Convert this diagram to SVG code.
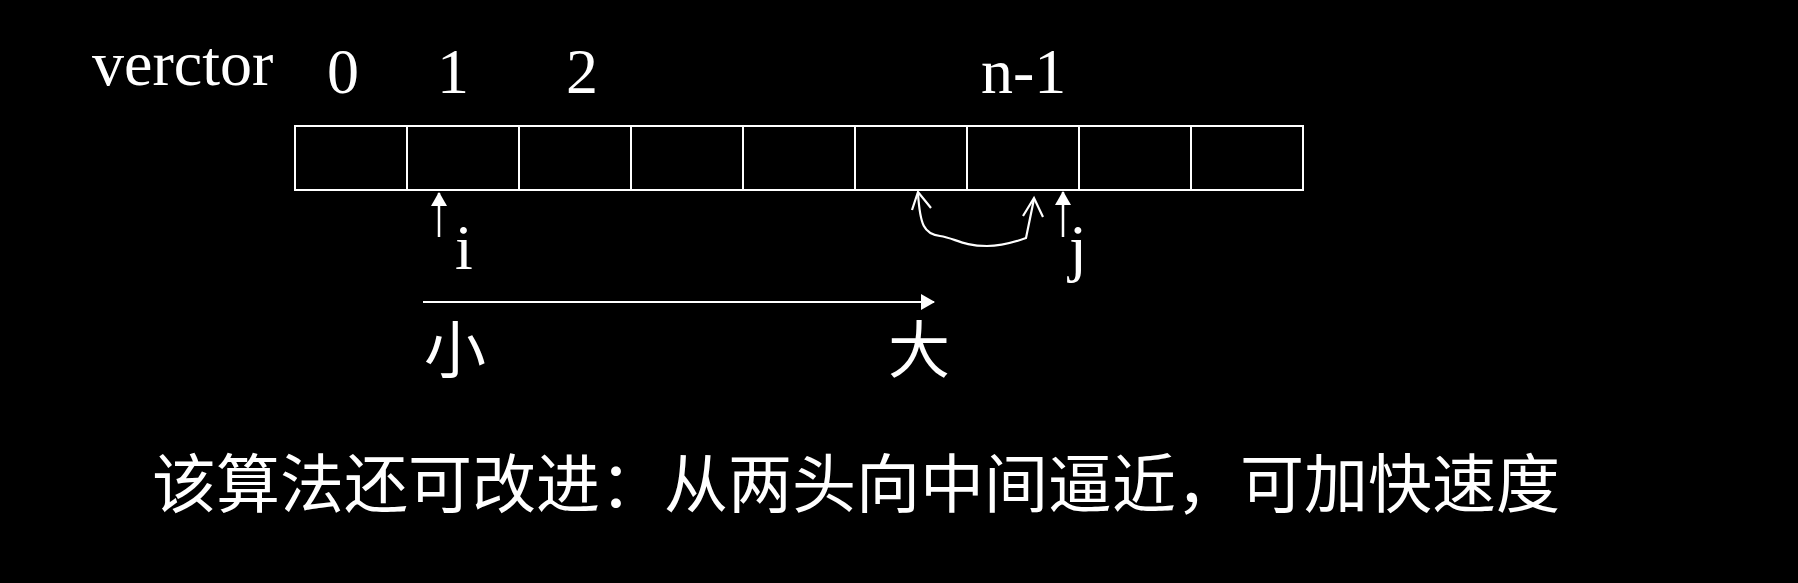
<svg xmlns="http://www.w3.org/2000/svg" width="1798" height="583" viewBox="0 0 1798 583">
<style>
.lat{font-family:"Liberation Serif","DejaVu Serif",serif;font-size:64px;fill:#fff}
.cjk{font-family:"Noto Sans CJK SC","Noto Sans",sans-serif;font-size:62px;fill:#fff}
.cell{fill:none;stroke:#fff;stroke-width:2}
.ln{fill:none;stroke:#fff;stroke-width:2.2}
</style>
<defs>
<marker id="tri" viewBox="0 0 14 16" refX="13" refY="8" markerWidth="14" markerHeight="16" markerUnits="userSpaceOnUse" orient="auto">
<path d="M0,0 L14,8 L0,16 Z" fill="#fff"/>
</marker>
</defs>
<rect width="1798" height="583" fill="#000"/>
<g id="labels">
<text class="lat" x="92" y="85">verctor</text>
<text class="lat" x="343" y="93" text-anchor="middle">0</text>
<text class="lat" x="453" y="93" text-anchor="middle">1</text>
<text class="lat" x="582" y="93" text-anchor="middle">2</text>
<text class="lat" x="981" y="93">n-1</text>
</g>
<g id="vector">
<rect class="cell" x="295" y="126" width="112" height="64"/>
<rect class="cell" x="407" y="126" width="112" height="64"/>
<rect class="cell" x="519" y="126" width="112" height="64"/>
<rect class="cell" x="631" y="126" width="112" height="64"/>
<rect class="cell" x="743" y="126" width="112" height="64"/>
<rect class="cell" x="855" y="126" width="112" height="64"/>
<rect class="cell" x="967" y="126" width="112" height="64"/>
<rect class="cell" x="1079" y="126" width="112" height="64"/>
<rect class="cell" x="1191" y="126" width="112" height="64"/>
</g>
<g id="pointer-i">
<text class="lat" x="464" y="269" text-anchor="middle">i</text>
</g>
<g id="pointer-j">
<text class="lat" x="1078" y="269" text-anchor="middle">j</text>
</g>
<g id="scale">
<text class="cjk" x="424" y="373">小</text>
<text class="cjk" x="888" y="373">大</text>
</g>
<g id="note">
<text class="cjk" x="152" y="507" style="font-size:64px">该算法还可改进：从两头向中间逼近，可加快速度</text>
</g>
<g id="connectors">
<path class="ln" d="M439,237 L439,193" style="stroke-width:2.5" marker-end="url(#tri)"/>
<path class="ln" d="M1063,237 L1063,192" style="stroke-width:2.5" marker-end="url(#tri)"/>
<path class="ln" d="M423,302 L934,302" marker-end="url(#tri)"/>
<path class="ln" d="M918,193 C920,225 924,234 940,236 C955,238 962,246 987,246 C1000,246 1015,242 1026,238 L1034,199"/>
<path class="ln" d="M912,210 L918,192 L931,208"/>
<path class="ln" d="M1023,216 L1034,198 L1043,217"/>
</g>
</svg>
